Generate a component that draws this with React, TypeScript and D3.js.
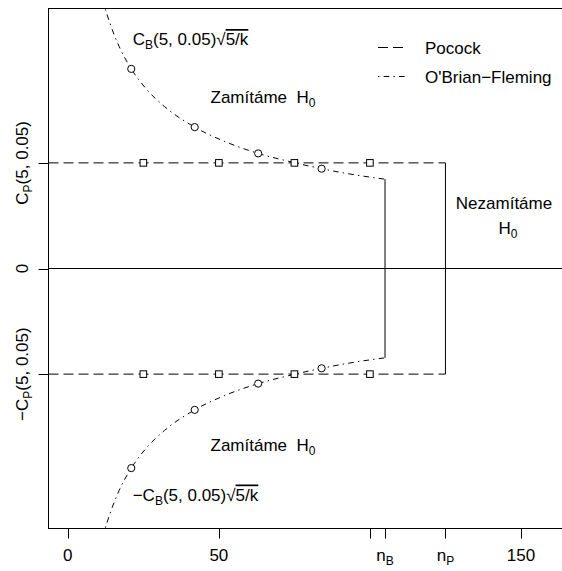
import React from 'react';
import * as d3 from 'd3';

// group sequential design, K = 5 looks, alpha = 0.05
const pocockC = 2.413; // C_P(5, 0.05)
const obfC = 2.04; // C_B(5, 0.05)
const nB = 105;
const nP = 125;

const pocockLooks = [25, 50, 75, 100];
const obfLooks = [21, 42, 63, 84];
const obfLookValues = [4.56, 3.23, 2.63, 2.28];

// dash-dot O'Brien-Fleming boundary
const obfCurveN = [10, 12, 14, 17, 21, 26, 32, 42, 52, 63, 73, 84, 95, 105];
const obfCurveValues = [6.61, 6.03, 5.59, 5.07, 4.56, 4.1, 3.7, 3.23, 2.9, 2.63, 2.45, 2.28, 2.14, 2.04];

const xTicks = [0, 50, 100, nB, nP, 150];
const xTickLabels = ['0', '50', '', 'B', 'P', '150'];
const yTicks = [pocockC, 0, -pocockC];

const xlim = [0, 160];
const ylim = [-5.5, 5.5];

const W = 562;
const H = 571;
const plot = { left: 48.5, right: 570.5, top: 8.5, bottom: 528.5 };
const font = '"Liberation Sans", Arial, Helvetica, sans-serif';
const FS = 17;
const SUB = 12;

const padX = (xlim[1] - xlim[0]) * 0.04;
const padY = (ylim[1] - ylim[0]) * 0.04;

export default function App() {
  const x = d3.scaleLinear()
    .domain([xlim[0] - padX, xlim[1] + padX])
    .range([plot.left, plot.right]);
  const y = d3.scaleLinear()
    .domain([ylim[0] - padY, ylim[1] + padY])
    .range([plot.bottom, plot.top]);

  const pts = obfCurveN.map((n, i) => [n, obfCurveValues[i]] as [number, number]);
  const line = d3.line<[number, number]>()
    .x((d) => x(d[0]))
    .y((d) => y(d[1]))
    .curve(d3.curveMonotoneX);
  const upper = line(pts) || '';
  const lower = line(pts.map((d) => [d[0], -d[1]] as [number, number])) || '';

  const dash = '10,5';
  const dotdash = '1.4,4.2,5.6,4.2';

  const sq = 6.6;

  const bLabel = (neg: boolean) => (
    <>
      {neg ? '\u2212C' : 'C'}
      <tspan fontSize={SUB} dy={4}>B</tspan>
      <tspan dy={-4}>(5, 0.05)</tspan>
      <tspan>{'\u221A'}</tspan>
      <tspan style={{ textDecoration: 'overline' }}>5/k</tspan>
    </>
  );

  return (
    <svg width={W} height={H} style={{ position: 'absolute', left: 0, top: 0, background: '#fff' }}
      fontFamily={font} fontSize={FS}>
      <defs>
        <clipPath id="plot-clip">
          <rect x={plot.left} y={plot.top} width={plot.right - plot.left} height={plot.bottom - plot.top} />
        </clipPath>
      </defs>

      <g clipPath="url(#plot-clip)" fill="none" stroke="#000" strokeWidth={1}>
        {/* zero line */}
        <line x1={plot.left} x2={plot.right} y1={y(0)} y2={y(0)} />

        {/* Pocock bounds */}
        {[pocockC, -pocockC].map((c) => (
          <line key={c} x1={plot.left} x2={x(nP)} y1={y(c)} y2={y(c)} strokeDasharray={dash} />
        ))}
        <line x1={x(nP)} x2={x(nP)} y1={y(pocockC)} y2={y(-pocockC)} />

        {/* O'Brien-Fleming bounds */}
        <path d={upper} strokeDasharray={dotdash} />
        <path d={lower} strokeDasharray={dotdash} />
        <line x1={x(nB)} x2={x(nB)} y1={y(obfC)} y2={y(-obfC)} />

        {pocockLooks.map((n) => [pocockC, -pocockC].map((c) => (
          <rect key={`${n}${c}`} x={x(n) - sq / 2} y={y(c) - sq / 2} width={sq} height={sq} fill="#fff" />
        )))}
        {obfLooks.map((n, i) => [1, -1].map((s) => (
          <circle key={`${n}${s}`} cx={x(n)} cy={y(s * obfLookValues[i])} r={3.6} fill="#fff" />
        )))}
      </g>

      {/* box, right side falls off the canvas */}
      <rect x={plot.left} y={plot.top} width={plot.right - plot.left} height={plot.bottom - plot.top}
        fill="none" stroke="#000" />

      {/* x axis */}
      <g stroke="#000">
        <line x1={x(0)} x2={x(150)} y1={plot.bottom} y2={plot.bottom} />
        {xTicks.map((t) => (
          <line key={t} x1={Math.round(x(t)) + 0.5} x2={Math.round(x(t)) + 0.5} y1={plot.bottom} y2={plot.bottom + 10} />
        ))}
      </g>
      {xTicks.map((t, i) => {
        const lab = xTickLabels[i];
        if (!lab) return null;
        const isSub = lab === 'B' || lab === 'P';
        return (
          <text key={t} x={x(t)} y={561} textAnchor="middle">
            {isSub ? (<>n<tspan fontSize={SUB} dy={4}>{lab}</tspan></>) : lab}
          </text>
        );
      })}

      {/* y axis */}
      <g stroke="#000">
        <line x1={plot.left} x2={plot.left} y1={y(pocockC)} y2={y(-pocockC)} />
        {yTicks.map((t) => (
          <line key={t} x1={plot.left - 10} x2={plot.left} y1={Math.round(y(t)) + 0.5} y2={Math.round(y(t)) + 0.5} />
        ))}
      </g>
      {yTicks.map((t) => (
        <text key={t} transform={`translate(28,${y(t)}) rotate(-90)`} textAnchor="middle">
          {t === 0 ? '0' : (
            <>
              {t < 0 ? '\u2212C' : 'C'}
              <tspan fontSize={SUB} dy={4}>P</tspan>
              <tspan dy={-4}>(5, 0.05)</tspan>
            </>
          )}
        </text>
      ))}

      {/* annotations */}
      <text x={132.7} y={45}>{bLabel(false)}</text>
      <text x={132.7} y={500.5}>{bLabel(true)}</text>

      <text x={263} y={103} textAnchor="middle">
        {'Zam\u00edt\u00e1me\u00a0\u00a0H'}<tspan fontSize={SUB} dy={4}>0</tspan>
      </text>
      <text x={263} y={451} textAnchor="middle">
        {'Zam\u00edt\u00e1me\u00a0\u00a0H'}<tspan fontSize={SUB} dy={4}>0</tspan>
      </text>

      <text x={504} y={208.5} textAnchor="middle">{'Nezam\u00edt\u00e1me'}</text>
      <text x={508} y={234} textAnchor="middle">
        H<tspan fontSize={SUB} dy={4}>0</tspan>
      </text>

      {/* legend */}
      <g stroke="#000">
        <line x1={378} x2={408} y1={47.5} y2={47.5} strokeDasharray={dash} />
        <line x1={378} x2={408} y1={76.5} y2={76.5} strokeDasharray={dotdash} />
      </g>
      <text x={425} y={53.5}>Pocock</text>
      <text x={425} y={82.5}>{'O\'Brian\u2212Fleming'}</text>
    </svg>
  );
}
